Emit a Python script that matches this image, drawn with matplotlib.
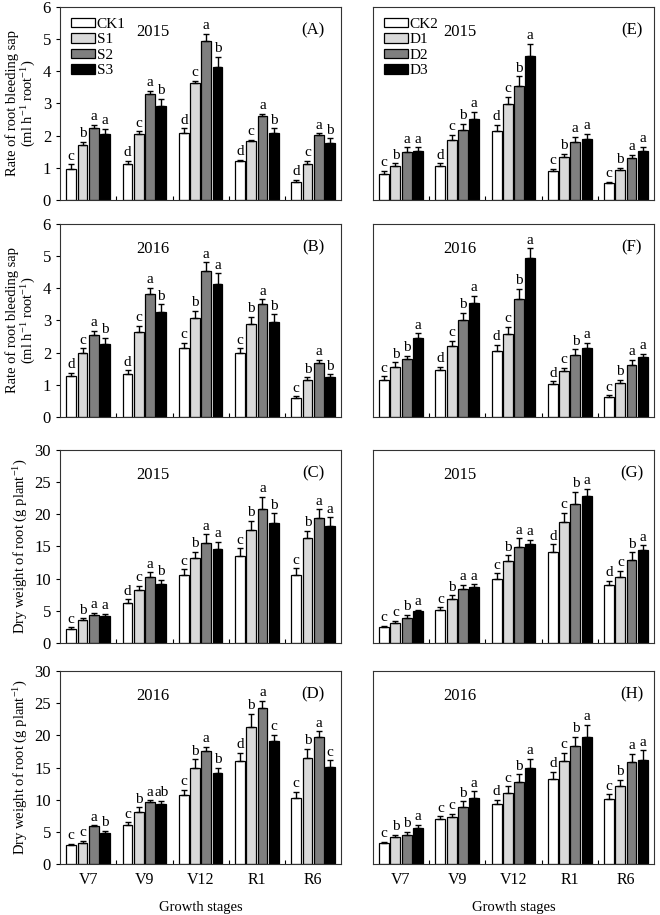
import numpy as np
import matplotlib.pyplot as plt
from matplotlib.ticker import FixedLocator

plt.rcParams['font.family'] = ['Liberation Serif', 'DejaVu Serif']
plt.rcParams['mathtext.fontset'] = 'custom'
plt.rcParams['mathtext.rm'] = 'Liberation Serif'
plt.rcParams['mathtext.it'] = 'Liberation Serif:italic'

stages = ["V7", "V9", "V12", "R1", "R6"]
colors = ["white", "#d9d9d9", "#7f7f7f", "black"]

# ---- rate of root bleeding sap (ml h-1 root-1) ----
A_vals = [[0.97, 1.12, 2.08, 1.20, 0.55],
          [1.70, 2.05, 3.65, 1.83, 1.13],
          [2.25, 3.30, 4.95, 2.62, 2.02],
          [2.05, 2.92, 4.13, 2.08, 1.78]]
A_err = [[0.14, 0.10, 0.15, 0.05, 0.07],
         [0.10, 0.08, 0.06, 0.05, 0.08],
         [0.08, 0.10, 0.22, 0.05, 0.05],
         [0.17, 0.22, 0.33, 0.15, 0.14]]
A_let = [["c", "d", "d", "d", "d"], ["b", "c", "c", "c", "c"],
         ["a", "a", "a", "a", "a"], ["a", "b", "b", "b", "b"]]

B_vals = [[1.27, 1.35, 2.13, 1.98, 0.59],
          [1.98, 2.65, 3.07, 2.88, 1.15],
          [2.55, 3.82, 4.55, 3.50, 1.69],
          [2.28, 3.25, 4.13, 2.94, 1.24]]
B_err = [[0.10, 0.10, 0.18, 0.15, 0.05],
         [0.15, 0.19, 0.23, 0.24, 0.08],
         [0.12, 0.20, 0.26, 0.16, 0.09],
         [0.18, 0.25, 0.33, 0.25, 0.08]]
B_let = [["d", "d", "c", "c", "c"], ["c", "c", "b", "b", "b"],
         ["a", "a", "a", "a", "a"], ["b", "b", "a", "b", "b"]]

E_vals = [[0.82, 1.07, 2.13, 0.91, 0.54],
          [1.07, 1.85, 2.97, 1.33, 0.94],
          [1.50, 2.17, 3.53, 1.80, 1.31],
          [1.52, 2.51, 4.49, 1.89, 1.53]]
E_err = [[0.09, 0.07, 0.20, 0.06, 0.02],
         [0.07, 0.17, 0.24, 0.10, 0.06],
         [0.14, 0.19, 0.31, 0.17, 0.10],
         [0.12, 0.23, 0.36, 0.17, 0.12]]
E_let = [["c", "d", "d", "c", "c"], ["b", "c", "c", "b", "b"],
         ["a", "b", "b", "a", "a"], ["a", "a", "a", "a", "a"]]

F_vals = [[1.16, 1.46, 2.05, 1.03, 0.61],
          [1.55, 2.21, 2.59, 1.43, 1.07],
          [1.79, 3.00, 3.67, 1.94, 1.63],
          [2.45, 3.54, 4.94, 2.15, 1.86]]
F_err = [[0.10, 0.10, 0.20, 0.08, 0.06],
         [0.15, 0.15, 0.22, 0.10, 0.09],
         [0.12, 0.24, 0.31, 0.16, 0.15],
         [0.15, 0.23, 0.30, 0.15, 0.10]]
F_let = [["c", "d", "d", "d", "c"], ["b", "c", "c", "c", "b"],
         ["b", "b", "b", "b", "a"], ["a", "a", "a", "a", "a"]]

# ---- dry weight of root (g plant-1) ----
C_vals = [[2.1, 6.2, 10.6, 13.55, 10.6],
          [3.6, 8.2, 13.2, 17.5, 16.3],
          [4.3, 10.2, 15.6, 20.8, 19.4],
          [4.2, 9.2, 14.6, 18.7, 18.1]]
C_err = [[0.35, 0.6, 0.85, 1.15, 1.0],
         [0.25, 0.65, 1.0, 1.5, 1.15],
         [0.35, 0.8, 1.3, 1.9, 1.4],
         [0.35, 0.6, 1.1, 1.45, 1.4]]
C_let = [["c", "d", "c", "c", "c"], ["b", "c", "b", "b", "b"],
         ["a", "a", "a", "a", "a"], ["a", "b", "a", "b", "a"]]

D_vals = [[2.97, 6.04, 10.7, 16.0, 10.3],
          [3.33, 8.04, 14.9, 21.35, 16.5],
          [5.89, 9.63, 17.56, 24.3, 19.8],
          [4.86, 9.27, 14.08, 19.05, 15.1]]
D_err = [[0.15, 0.45, 0.85, 1.3, 0.9],
         [0.3, 0.75, 1.4, 2.0, 1.45],
         [0.15, 0.3, 0.7, 1.1, 0.85],
         [0.3, 0.55, 0.85, 1.0, 1.0]]
D_let = [["c", "c", "c", "d", "c"], ["c", "b", "b", "b", "b"],
         ["a", "a", "a", "a", "a"], ["b", "ab", "b", "c", "c"]]

G_vals = [[2.52, 5.14, 10.0, 14.17, 8.98],
          [3.18, 6.86, 12.7, 18.76, 10.29],
          [3.93, 8.37, 14.98, 21.53, 12.96],
          [4.9, 8.77, 15.33, 22.9, 14.42]]
G_err = [[0.15, 0.4, 0.8, 1.15, 0.7],
         [0.25, 0.55, 0.9, 1.5, 0.95],
         [0.45, 0.65, 1.26, 1.97, 1.1],
         [0.3, 0.35, 0.7, 1.06, 0.75]]
G_let = [["c", "c", "c", "d", "d"], ["c", "b", "b", "c", "c"],
         ["b", "a", "a", "b", "b"], ["a", "a", "a", "a", "a"]]

H_vals = [[3.24, 6.95, 9.32, 13.23, 10.04],
          [4.22, 7.3, 11.1, 16.06, 12.2],
          [4.58, 8.85, 12.8, 18.27, 15.85],
          [5.56, 10.3, 14.98, 19.76, 16.2]]
H_err = [[0.25, 0.45, 0.7, 1.1, 0.8],
         [0.3, 0.5, 0.95, 1.25, 0.9],
         [0.4, 0.9, 1.15, 1.5, 1.3],
         [0.5, 1.0, 1.4, 1.85, 1.5]]
H_let = [["c", "c", "d", "d", "c"], ["b", "c", "c", "c", "b"],
         ["b", "b", "b", "b", "a"], ["a", "a", "a", "a", "a"]]

sap_label = "Rate of root bleeding sap\n(ml h$^{-1}$ root$^{-1}$)"
dw_label = "Dry weight of root (g plant$^{-1}$)"

fig = plt.figure(figsize=(6.6, 9.15), dpi=100)

lefts = [0.091, 0.565]
w = 0.426
h = 0.211
bottoms = [0.7814, 0.5443, 0.2973, 0.0557]

panels = [
    # row, col, vals, err, letters, tag, year, ymax, legend names
    (0, 0, A_vals, A_err, A_let, "(A)", "2015", 6, ["CK1", "S1", "S2", "S3"]),
    (1, 0, B_vals, B_err, B_let, "(B)", "2016", 6, None),
    (2, 0, C_vals, C_err, C_let, "(C)", "2015", 30, None),
    (3, 0, D_vals, D_err, D_let, "(D)", "2016", 30, None),
    (0, 1, E_vals, E_err, E_let, "(E)", "2015", 6, ["CK2", "D1", "D2", "D3"]),
    (1, 1, F_vals, F_err, F_let, "(F)", "2016", 6, None),
    (2, 1, G_vals, G_err, G_let, "(G)", "2015", 30, None),
    (3, 1, H_vals, H_err, H_let, "(H)", "2016", 30, None),
]

x = np.arange(len(stages))
bw = 0.175
offs = [-0.3, -0.1, 0.1, 0.3]

for row, col, vals, err, lets, tag, year, ymax, names in panels:
    ax = fig.add_axes([lefts[col], bottoms[row], w, h])
    step = ymax / 6
    for k in range(4):
        xs = x + offs[k]
        ax.bar(xs, vals[k], bw, color=colors[k], edgecolor='black', linewidth=0.9,
               yerr=[np.zeros(5), err[k]], capsize=2.5,
               error_kw=dict(ecolor='black', elinewidth=1.0, capthick=1.0),
               label=names[k] if names else None, zorder=2)
        for i in range(5):
            ax.text(xs[i], vals[k][i] + err[k][i] + step * 0.05, lets[k][i],
                    ha='center', va='bottom', fontsize=11)
    ax.set_xlim(-0.5, 4.5)
    ax.set_ylim(0, ymax)
    ax.set_xticks(x)
    ax.xaxis.set_minor_locator(FixedLocator([0.5, 1.5, 2.5, 3.5]))
    ax.tick_params(axis='x', which='major', length=0, labelsize=11.5, pad=6)
    ax.tick_params(axis='x', which='minor', direction='in', length=3, width=0.8)
    if row == 3:
        ax.set_xticklabels(stages)
        ax.set_xlabel("Growth stages", fontsize=10.5, labelpad=9)
    else:
        ax.set_xticklabels([])
    if col == 0:
        ax.set_yticks(np.arange(0, ymax + 0.01, step))
        ax.tick_params(axis='y', length=3, width=0.8, labelsize=12)
        ax.set_ylabel(sap_label if ymax == 6 else dw_label, fontsize=10.5,
                      labelpad=3, linespacing=1.1)
    else:
        ax.set_yticks([])
    for s in ax.spines.values():
        s.set_linewidth(0.8)
        s.set_color('#333333')
    ax.text(0.33 if col == 0 else 0.31, 0.87, year, transform=ax.transAxes,
            ha='center', va='center', fontsize=12)
    ax.text(0.90 if col == 0 else 0.92, 0.88, tag, transform=ax.transAxes,
            ha='center', va='center', fontsize=12)
    if names:
        ax.legend(loc='upper left', frameon=False, fontsize=11, handlelength=1.6,
                  handleheight=0.6, labelspacing=0.15, handletextpad=0.1,
                  borderaxespad=0.3, bbox_to_anchor=(0.0, 1.0))

fig.savefig("out.png", dpi=100)
